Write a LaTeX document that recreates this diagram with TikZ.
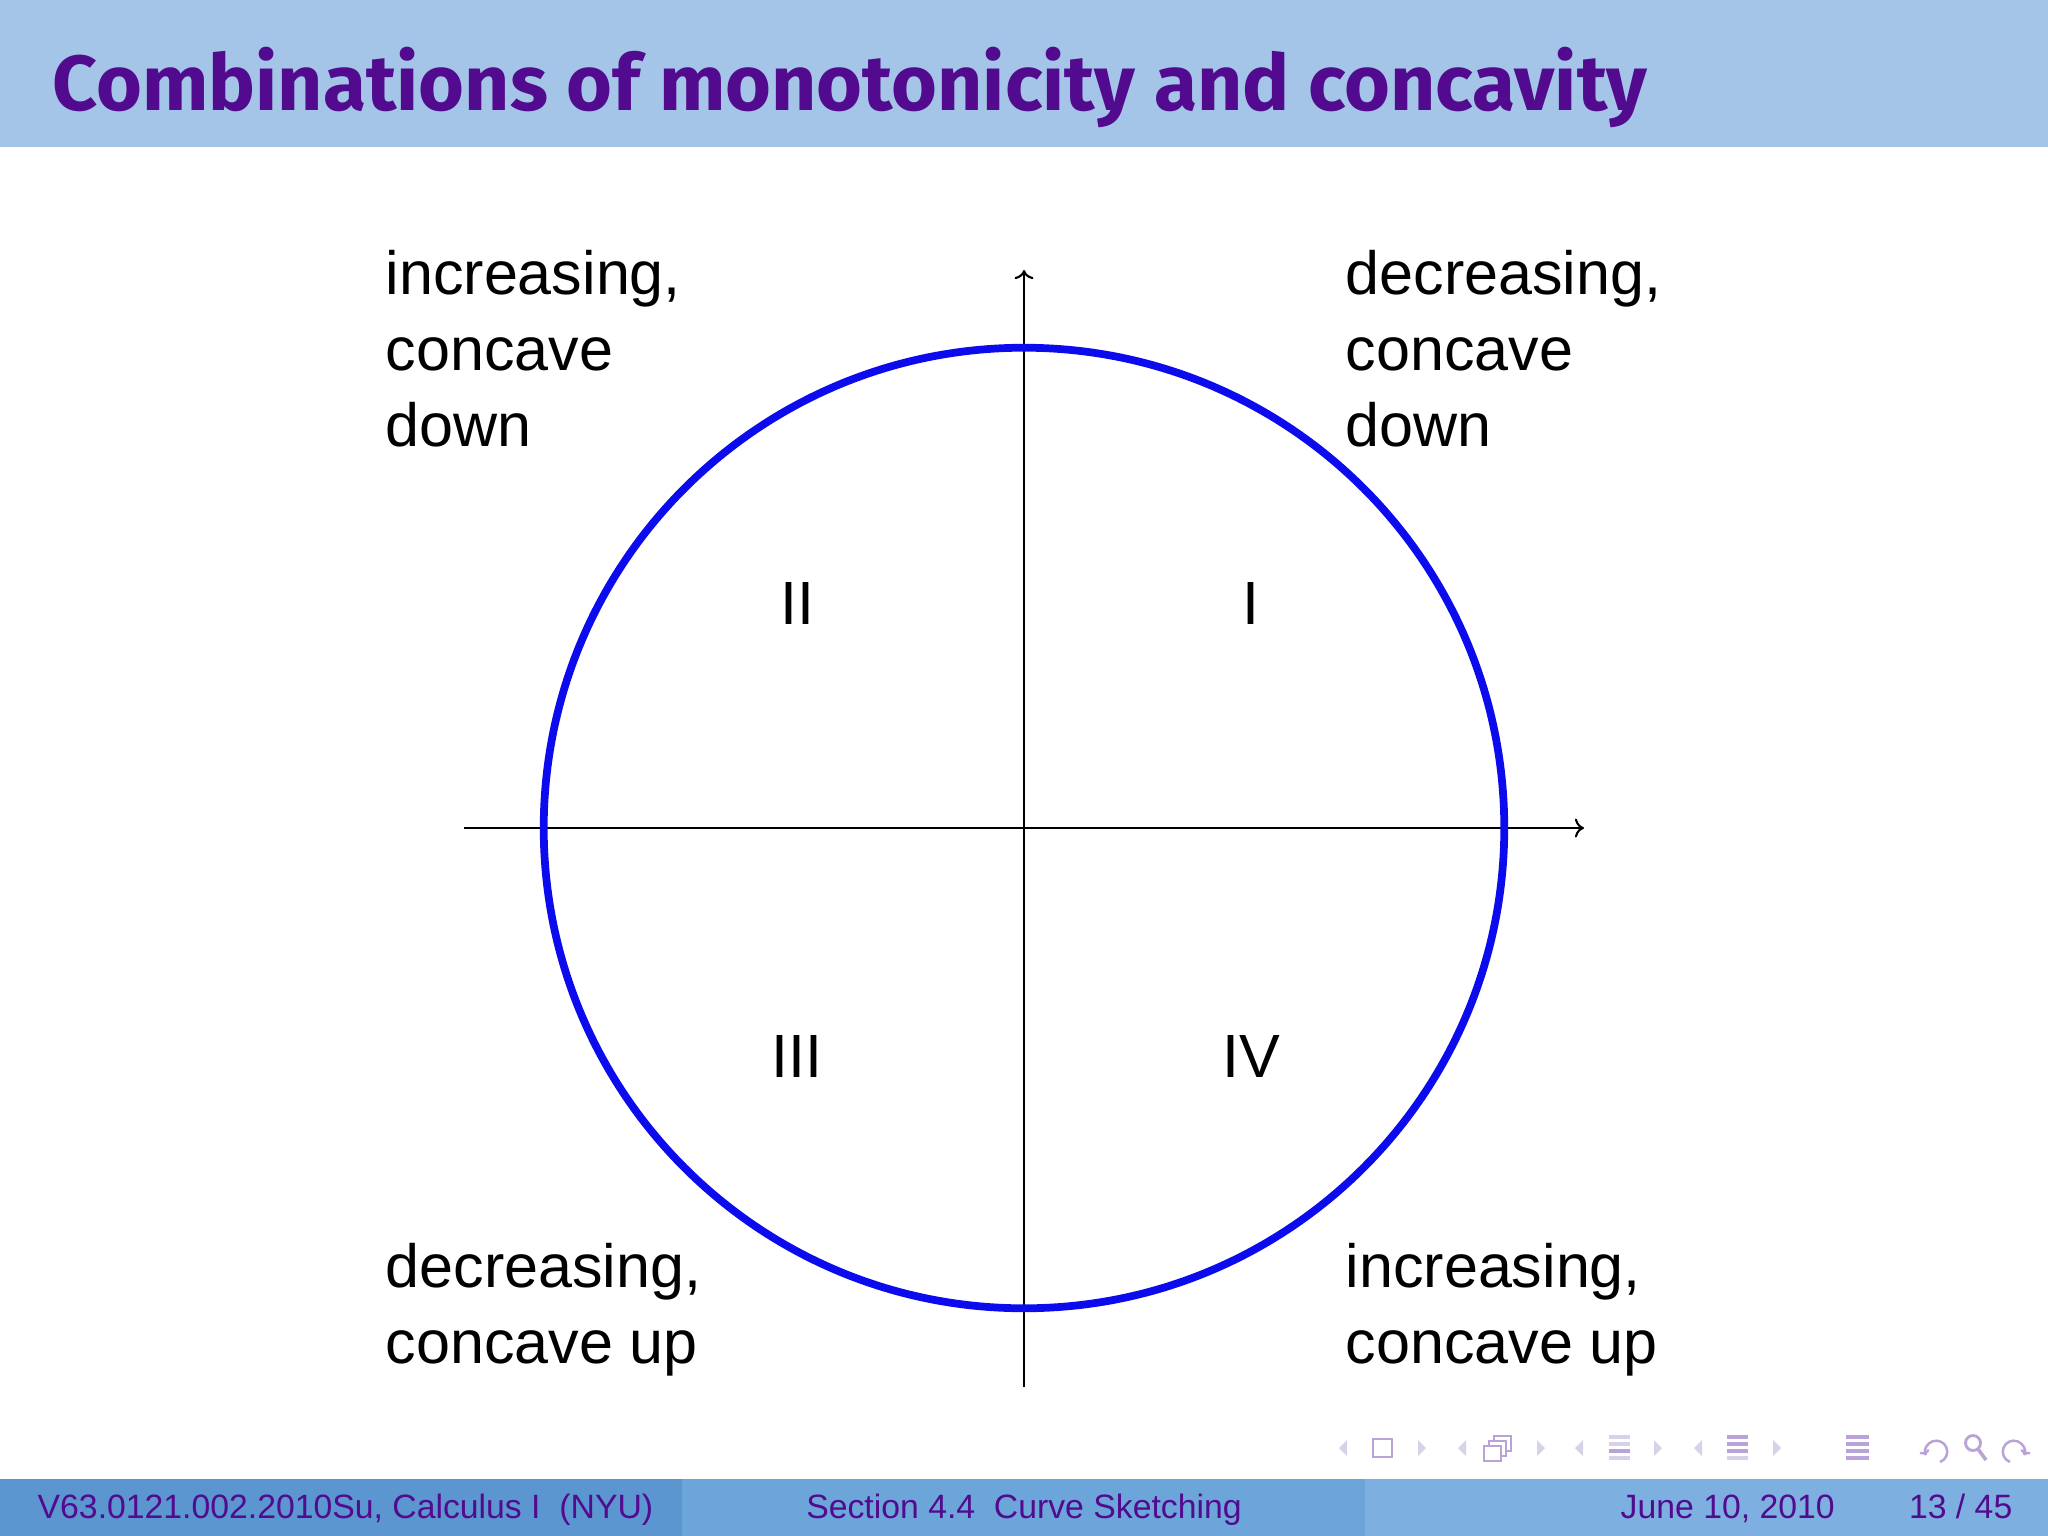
\documentclass[tikz,border=0pt]{standalone}
\usepackage{fontspec}
\setmainfont{Liberation Sans}
\newfontfamily\titlefont{Fira Sans}
\usetikzlibrary{arrows.meta}
\definecolor{hdr}{HTML}{A4C5E7}
\definecolor{ttl}{HTML}{520B8E}
\definecolor{ftA}{HTML}{5B96D0}
\definecolor{ftB}{HTML}{6CA5D9}
\definecolor{ftC}{HTML}{7DB0E0}
\definecolor{circ}{HTML}{0B0BEE}
\definecolor{navl}{HTML}{D6D3E8}
\definecolor{navd}{HTML}{B8A2D8}
\begin{document}
\begin{tikzpicture}[x=0.01cm,y=-0.01cm,
  lbl/.style={anchor=base west, inner sep=0pt, font=\fontsize{17.36}{21.6}\selectfont},
  num/.style={anchor=base, inner sep=0pt, font=\fontsize{17.36}{21.6}\selectfont},
  foot/.style={inner sep=0pt, text=ttl, font=\fontsize{9.6}{11}\selectfont},
  axisline/.style={line width=0.6pt, -{To[length=2.6pt,width=5.4pt]}},
  navtri/.style={fill=navl, draw=none},
  navbox/.style={draw=navd, line width=0.7pt, fill=white},
  ]
\useasboundingbox (0,0) rectangle (2048,1536);
% header
\fill[hdr] (0,0) rectangle (2048,147);
\node[anchor=base west, inner sep=0pt, text=ttl,
  font=\titlefont\bfseries\fontsize{22.2}{26}\selectfont] (title) at (52,110)
  {\resizebox{15.94cm}{\height}{Combinations of monotonicity and concavity}};
% axes
\coordinate (xl) at (464,828);
\coordinate (xr) at (1584,828);
\coordinate (yb) at (1024,1387);
\coordinate (yt) at (1024,270);
\coordinate (o) at (1024,828);
\draw[axisline] (xl) -- (xr);
\draw[axisline] (yb) -- (yt);
\draw[circ, line width=2.2pt] (o) circle[radius=4.8cm];
% numerals
\node[num] (n1) at (1251,624) {I};
\node[num] (n2) at (797,624) {II};
\node[num] (n3) at (797,1077) {III};
\node[num] (n4) at (1251,1077) {IV};
% corner labels
\node[lbl] (tl1) at (385,294) {increasing,};
\node[lbl] (tl2) at (385,370) {concave};
\node[lbl] (tl3) at (385,446) {down};
\node[lbl] (tr1) at (1345,294) {decreasing,};
\node[lbl] (tr2) at (1345,370) {concave};
\node[lbl] (tr3) at (1345,446) {down};
\node[lbl] (bl1) at (385,1287) {decreasing,};
\node[lbl] (bl2) at (385,1363) {concave up};
\node[lbl] (br1) at (1345,1287) {increasing,};
\node[lbl] (br2) at (1345,1363) {concave up};
% navigation symbols
\foreach \cx in {1343,1462,1579,1698} \fill[navtri] (\cx+4,1440) -- (\cx-4,1448) -- (\cx+4,1456) -- cycle;
\foreach \cx in {1422,1541,1658,1777} \fill[navtri] (\cx-4,1440) -- (\cx+4,1448) -- (\cx-4,1456) -- cycle;
\draw[navbox] (1373,1439) rectangle (1392,1457);
\draw[navbox] (1494,1436) rectangle (1511,1451);
\draw[navbox] (1489,1441) rectangle (1506,1456);
\draw[navbox] (1484,1446) rectangle (1501,1461);
\foreach \yy/\cc in {1437/navl,1444/navl,1451/navd,1458/navl} \fill[\cc] (1609,\yy-2) rectangle (1630,\yy+2);
\foreach \yy/\cc in {1437/navd,1444/navd,1451/navd,1458/navl} \fill[\cc] (1727,\yy-2) rectangle (1748,\yy+2);
\foreach \yy/\cc in {1437/navd,1444/navd,1451/navd,1458/navd} \fill[\cc] (1846,\yy-2) rectangle (1869,\yy+2);
\draw[navd, line width=0.7pt, -{To[length=1.5pt,width=3pt]}] (1940,1462) arc[start angle=-70, end angle=200, radius=0.11cm];
\draw[navd, line width=0.8pt] (1973,1443) circle[radius=0.075cm];
\draw[navd, line width=1pt] (1978,1449) -- (1986,1460);
\draw[navd, line width=0.7pt, -{To[length=1.5pt,width=3pt]}] (2010,1462) arc[start angle=250, end angle=-20, radius=0.11cm];
% footer
\fill[ftA] (0,1479) rectangle (682,1536);
\fill[ftB] (682,1479) rectangle (1365,1536);
\fill[ftC] (1365,1479) rectangle (2048,1536);
\node[foot, anchor=base west] (f1) at (37,1518) {V63.0121.002.2010Su, Calculus I\ \ (NYU)};
\node[foot, anchor=base] (f2) at (1024,1518) {Section 4.4\ \ Curve Sketching};
\node[foot, anchor=base west] (f3) at (1620,1518) {June 10, 2010};
\node[foot, anchor=base east] (f4) at (2013,1518) {13 / 45};
\end{tikzpicture}
\end{document}
